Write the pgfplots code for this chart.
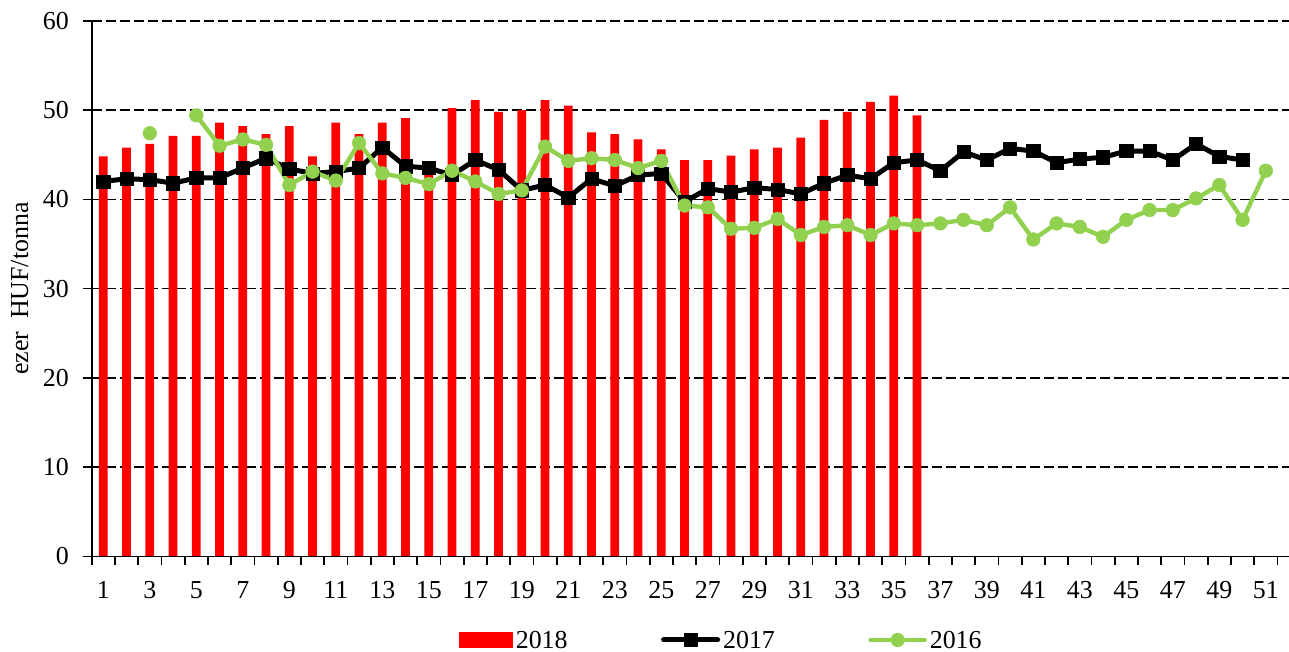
\documentclass[border=0pt]{standalone}
\usepackage{fontspec}
\setmainfont{Liberation Serif}
\usepackage{pgfplots}
\pgfplotsset{compat=1.18}
\definecolor{grn}{RGB}{146,208,80}
\begin{document}
\fontsize{13}{15.6}\selectfont
\begin{tikzpicture}
\begin{axis}[
  scale only axis, width=598.45bp, height=267.9bp,
  at={(45.85bp,47.75bp)}, anchor=south west,
  xmin=0.5, xmax=51.98, ymin=0, ymax=60,
  axis x line=bottom, axis y line=left,
  axis line style={-, line width=0.8bp, black},
  xtick={1,3,...,51}, xtick style={draw=none},
  ytick={0,10,...,60},
  tick align=center, major tick length=8.4bp,
  tick style={black, line width=0.8bp},
  ymajorgrids=true,
  major grid style={black, line width=0.8bp, dash pattern=on 5.2bp off 1.8bp},
  /pgf/number format/assume math mode=true,
  tick label style={font=\fontsize{13}{15.6}\selectfont},
  yticklabel style={anchor=east, inner sep=0pt, xshift=-7bp},
  xticklabel style={anchor=north, inner sep=0pt, yshift=-8bp},
  ylabel={ezer\ \ HUF/tonna},
  ylabel style={at={(axis description cs:-0.0532,0.5)}, anchor=base, inner sep=0pt, font=\fontsize{13}{15.6}\selectfont},
  legend columns=3,
  legend style={draw=none, fill=none, inner sep=0pt, at={(axis description cs:0.3064,-0.1590)}, anchor=west,
    nodes={inner sep=0pt, font=\fontsize{13}{15.6}\selectfont},
    /tikz/every odd column/.append style={column sep=1.5bp},
    /tikz/every even column/.append style={column sep=46.75bp}},
  legend cell align=left,
  legend image code/.code={\draw[mark repeat=2,mark phase=2,#1] plot coordinates {(0bp,0.85bp)(13.5bp,0.85bp)(27bp,0.85bp)};},
]
\addplot[ybar, bar width=4.4bp, bar shift=0pt, fill=red, draw=none,
  legend image code/.code={\fill[red] (0bp,-3.35bp) rectangle (27bp,5.05bp);}] coordinates {
(1,44.8)(2,45.8)(3,46.2)(4,47.1)(5,47.1)(6,48.6)(7,48.2)(8,47.3)(9,48.2)(10,44.8)
(11,48.6)(12,47.3)(13,48.6)(14,49.1)(15,43.5)(16,50.2)(17,51.1)(18,49.8)(19,50.0)(20,51.1)
(21,50.5)(22,47.5)(23,47.3)(24,46.7)(25,45.6)(26,44.4)(27,44.4)(28,44.9)(29,45.6)(30,45.8)
(31,46.9)(32,48.9)(33,49.8)(34,50.9)(35,51.6)(36,49.4)};
\addlegendentry{2018}
\addplot[black, line width=2.5bp, line join=round, line cap=round, mark=square*, mark size=3.3bp,
  mark options={solid, line width=0.3bp}] coordinates {
(1,42.0)(2,42.3)(3,42.2)(4,41.8)(5,42.4)(6,42.4)(7,43.5)(8,44.6)(9,43.4)(10,42.9)
(11,43.1)(12,43.5)(13,45.8)(14,43.7)(15,43.5)(16,42.7)(17,44.4)(18,43.3)(19,41.0)(20,41.6)
(21,40.2)(22,42.3)(23,41.5)(24,42.7)(25,42.9)(26,39.7)(27,41.2)(28,40.8)(29,41.3)(30,41.1)
(31,40.6)(32,41.8)(33,42.7)(34,42.3)(35,44.1)(36,44.4)(37,43.2)(38,45.3)(39,44.4)(40,45.7)
(41,45.4)(42,44.1)(43,44.5)(44,44.7)(45,45.4)(46,45.4)(47,44.4)(48,46.2)(49,44.8)(50,44.4)};
\addlegendentry{2017}
\addplot[grn, line width=2.2bp, line join=round, line cap=round, mark=*, mark size=3.4bp,
  mark options={solid, line width=0.3bp}, unbounded coords=jump] coordinates {
(3,47.4)(4,nan)(5,49.4)(6,46.0)(7,46.7)(8,46.1)(9,41.6)(10,43.1)
(11,42.1)(12,46.3)(13,42.9)(14,42.4)(15,41.7)(16,43.2)(17,42.0)(18,40.6)(19,41.0)(20,45.9)
(21,44.3)(22,44.6)(23,44.4)(24,43.5)(25,44.3)(26,39.3)(27,39.1)(28,36.7)(29,36.8)(30,37.8)
(31,36.0)(32,36.9)(33,37.1)(34,36.0)(35,37.3)(36,37.1)(37,37.3)(38,37.7)(39,37.1)(40,39.1)
(41,35.5)(42,37.3)(43,36.9)(44,35.8)(45,37.7)(46,38.8)(47,38.8)(48,40.1)(49,41.6)(50,37.7)
(51,43.2)};
\addlegendentry{2016}
\end{axis}
\begin{axis}[
  scale only axis, width=598.45bp, height=267.9bp,
  at={(45.85bp,47.75bp)}, anchor=south west,
  xmin=0.5, xmax=51.98, ymin=0, ymax=60,
  axis x line=bottom, axis y line=none,
  axis line style={-, line width=0.8bp, black},
  xtick={0.5,1.5,...,51.5}, xticklabels={}, ytick=\empty,
  tick align=outside, major tick length=4.2bp,
  tick style={black, line width=0.8bp},
]
\end{axis}
\pgfresetboundingbox
\path[use as bounding box] (0,0) rectangle (644.5bp,326bp);
\end{tikzpicture}
\end{document}
